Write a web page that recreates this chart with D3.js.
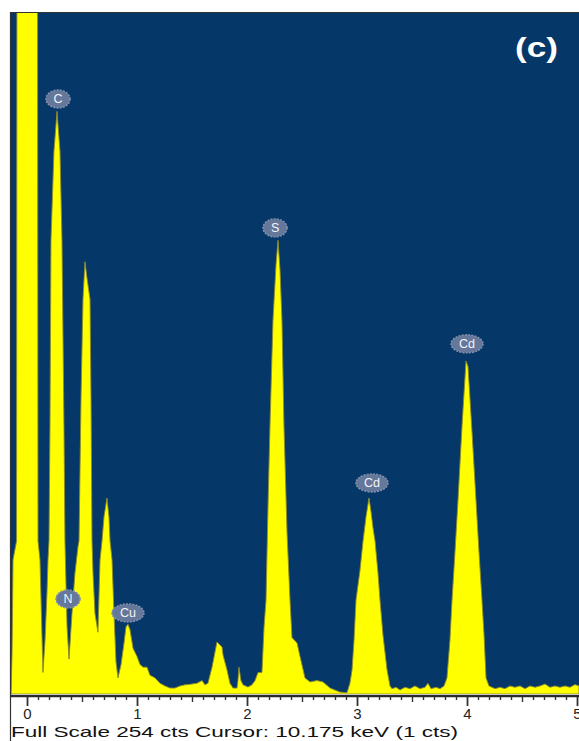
<!DOCTYPE html>
<html>
<head>
<meta charset="utf-8">
<script src="https://cdn.jsdelivr.net/npm/d3@7"></script>
<style>
  html, body { margin: 0; padding: 0; background: #ffffff; }
  svg { display: block; }
</style>
</head>
<body>
<svg id="chart" width="579" height="741"></svg>
<script>
// ---- data (energy in keV, counts) ----
const energy = [
  -0.155, -0.145, -0.136, -0.127, -0.095, -0.091, 0.095, 0.100, 0.118, 0.145,
  0.164, 0.182, 0.191, 0.200, 0.209, 0.218, 0.245, 0.273, 0.300, 0.318,
  0.336, 0.345, 0.355, 0.364, 0.382, 0.409, 0.436, 0.464, 0.473, 0.491,
  0.509, 0.527, 0.545, 0.573, 0.582, 0.591, 0.600, 0.618, 0.645, 0.664,
  0.682, 0.700, 0.727, 0.745, 0.755, 0.773, 0.791, 0.809, 0.827, 0.855,
  0.882, 0.900, 0.918, 0.936, 0.964, 1.000, 1.027, 1.055, 1.091, 1.118,
  1.164, 1.209, 1.255, 1.300, 1.345, 1.391, 1.436, 1.482, 1.545, 1.591,
  1.618, 1.645, 1.682, 1.727, 1.773, 1.782, 1.818, 1.845, 1.873, 1.909,
  1.918, 1.927, 1.945, 1.964, 2.009, 2.045, 2.073, 2.100, 2.136, 2.145,
  2.155, 2.173, 2.191, 2.209, 2.236, 2.264, 2.282, 2.300, 2.318, 2.336,
  2.364, 2.391, 2.409, 2.455, 2.482, 2.527, 2.573, 2.636, 2.691, 2.755,
  2.845, 2.909, 2.936, 2.955, 2.973, 2.991, 3.027, 3.055, 3.082, 3.109,
  3.127, 3.145, 3.164, 3.191, 3.209, 3.236, 3.273, 3.300, 3.318, 3.355,
  3.391, 3.436, 3.482, 3.527, 3.573, 3.618, 3.645, 3.673, 3.718, 3.755,
  3.791, 3.818, 3.845, 3.864, 3.891, 3.918, 3.955, 3.991, 4.009, 4.045,
  4.082, 4.109, 4.136, 4.155, 4.173, 4.200, 4.255, 4.300, 4.345, 4.391,
  4.436, 4.482, 4.527, 4.573, 4.618, 4.664, 4.709, 4.755, 4.800, 4.845,
  4.891, 4.936, 4.982, 5.018
];
const counts = [
  0, 0, 15, 50, 57, 300, 300, 57, 50, 8,
  20, 38, 50, 57, 100, 169, 202, 217, 202, 169,
  100, 57, 40, 25, 13, 30, 45, 55, 57, 110,
  147, 161, 155, 147, 110, 57, 45, 30, 23, 50,
  57, 66, 73, 66, 57, 50, 30, 12, 6, 11,
  19, 25, 26, 24, 17, 14, 11, 10, 10, 7,
  6, 4, 3, 2.2, 2.2, 3, 3.4, 3.6, 4, 5,
  3.4, 4, 10, 19.4, 17.5, 14.5, 9, 4, 2.2, 2.2,
  5, 10, 5, 3.4, 2.6, 3.4, 5, 8, 8, 16,
  25, 35, 70, 100, 139, 160, 169, 158, 139, 100,
  60, 35, 21, 19, 14, 6, 4.5, 5, 4.5, 2.2,
  0.7, 0.5, 4, 9, 20, 35, 46, 57, 66, 73,
  68, 62, 57, 45, 35, 22, 9, 3, 2, 2.5,
  1.5, 2.5, 2, 3, 2, 2.5, 4, 2, 2.5, 2,
  3, 6, 20, 35, 53, 72, 100, 124, 122, 98,
  72, 53, 35, 22, 6, 3, 2, 2.5, 2, 3,
  2.5, 3, 2, 3, 2.5, 3, 3.7, 2.5, 3, 2.5,
  3, 2.5, 3.5, 3
];
const peakNames  = ["C", "N", "Cu", "S", "Cd", "Cd"];
const peakEnergy = [0.282, 0.373, 0.918, 2.255, 3.136, 4.000];
const peakCounts = [221.6, 35.4, 30.2, 173.6, 78.6, 130.4];
const majorTicks = [0, 1, 2, 3, 4, 5];
const halfTicks  = [0.5, 1.5, 2.5, 3.5, 4.5];
const fullScale = 254;
const footerText = "Full Scale 254 cts  Cursor: 10.175 keV (1 cts)";
const panelLabel = "(c)";

// ---- drawing ----
const svg = d3.select("#chart");
const W = 579, H = 741;
const plot = { left: 10, top: 12, right: 579, bottom: 694 };

const x = d3.scaleLinear().domain([0, 5]).range([27, 577]);
const y = d3.scaleLinear().domain([0, fullScale]).range([plot.bottom, plot.top]);

svg.append("rect").attr("x", 0).attr("y", 0).attr("width", W).attr("height", H).attr("fill", "#ffffff");

svg.append("defs").append("clipPath").attr("id", "plotclip")
  .append("rect")
  .attr("x", plot.left).attr("y", plot.top)
  .attr("width", plot.right - plot.left).attr("height", plot.bottom - plot.top);

svg.append("rect")
  .attr("x", plot.left).attr("y", plot.top)
  .attr("width", plot.right - plot.left).attr("height", plot.bottom - plot.top)
  .attr("fill", "#053769");

const pts = energy.map((e, i) => [e, counts[i]]);
const area = d3.area()
  .x(d => x(d[0]))
  .y0(y(0))
  .y1(d => y(d[1]))
  .curve(d3.curveLinear);

svg.append("g").attr("clip-path", "url(#plotclip)")
  .append("path")
  .datum(pts)
  .attr("d", area)
  .attr("fill", "#ffff00")
  .attr("stroke", "#8c8c2a")
  .attr("stroke-width", 0.9)
  .attr("stroke-linejoin", "round");

// frame lines
svg.append("line").attr("x1", 10.5).attr("x2", 10.5).attr("y1", plot.top).attr("y2", H)
  .attr("stroke", "#333333").attr("stroke-width", 1.2);
svg.append("line").attr("x1", plot.left).attr("x2", W).attr("y1", plot.top + 0.5).attr("y2", plot.top + 0.5)
  .attr("stroke", "#333333").attr("stroke-width", 1.2);
svg.append("line").attr("x1", plot.left).attr("x2", W).attr("y1", 696).attr("y2", 696)
  .attr("stroke", "#2a2a2a").attr("stroke-width", 2.5);

// axes
const axisY = 697;
const minorVals = d3.range(0, 51).map(i => i / 10).filter(v => Math.abs(v * 2 - Math.round(v * 2)) > 1e-6);
const gMinor = svg.append("g").attr("transform", `translate(0,${axisY})`)
  .call(d3.axisBottom(x).tickValues(minorVals).tickSize(3).tickFormat(""));
const gHalf = svg.append("g").attr("transform", `translate(0,${axisY})`)
  .call(d3.axisBottom(x).tickValues(halfTicks).tickSize(5).tickFormat(""));
const gMajor = svg.append("g").attr("transform", `translate(0,${axisY})`)
  .call(d3.axisBottom(x).tickValues(majorTicks).tickSize(9).tickPadding(2).tickFormat(d3.format("d")));
[gMinor, gHalf, gMajor].forEach(g => {
  g.select(".domain").remove();
  g.selectAll(".tick line").attr("stroke", "#333333").attr("stroke-width", 1.4);
});
gMajor.selectAll(".tick line").attr("stroke-width", 1.8);
gMajor.selectAll(".tick text")
  .attr("font-family", "Liberation Sans, Arial, sans-serif")
  .attr("font-size", 15).attr("fill", "#222222");

// footer
svg.append("text")
  .attr("x", 11).attr("y", 737)
  .attr("font-family", "Liberation Sans, Arial, sans-serif")
  .attr("font-size", 15).attr("fill", "#111111")
  .attr("textLength", 447).attr("lengthAdjust", "spacingAndGlyphs")
  .text(footerText);

// panel label
svg.append("text")
  .attr("x", 515).attr("y", 57)
  .attr("font-family", "Liberation Sans, Arial, sans-serif")
  .attr("font-size", 28).attr("font-weight", "bold").attr("fill", "#ffffff")
  .attr("textLength", 43).attr("lengthAdjust", "spacingAndGlyphs")
  .text(panelLabel);

// element markers
const lab = svg.append("g");
peakNames.forEach((n, i) => {
  const cx = x(peakEnergy[i]), cy = y(peakCounts[i]);
  const rx = n.length > 1 ? 16 : 12;
  const g = lab.append("g");
  g.append("ellipse").attr("cx", cx).attr("cy", cy).attr("rx", rx).attr("ry", 9)
    .attr("fill", "#65779a").attr("stroke", "#8391ab").attr("stroke-width", 1.5)
    .attr("stroke-dasharray", "2,1.2");
  g.append("text").attr("x", cx).attr("y", cy + 4.5)
    .attr("text-anchor", "middle")
    .attr("font-family", "Liberation Sans, Arial, sans-serif")
    .attr("font-size", 12.5).attr("fill", "#f2f4f8")
    .text(n);
});
</script>
</body>
</html>
